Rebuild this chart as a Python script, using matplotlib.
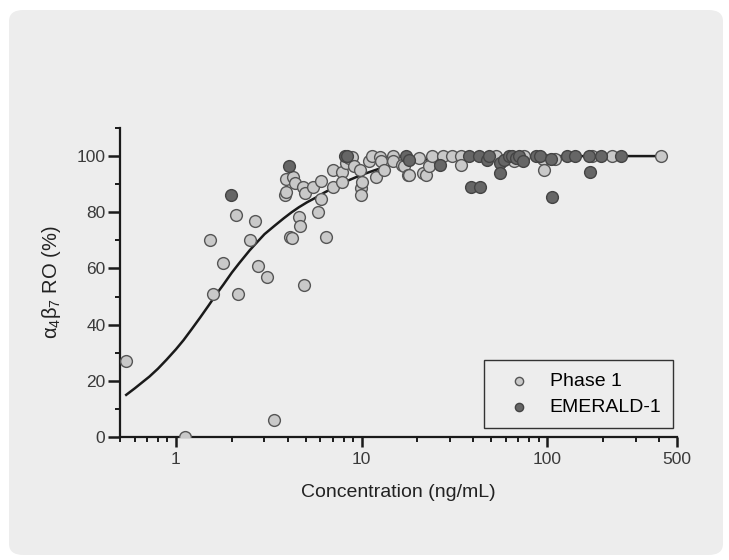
import numpy as np
import matplotlib
matplotlib.use("Agg")
import matplotlib.pyplot as plt
from matplotlib.patches import FancyBboxPatch
from matplotlib.ticker import NullFormatter, LogLocator

plt.rcParams['font.family'] = ['Liberation Sans', 'DejaVu Sans']

# Phase 1 observations (concentration ng/mL, RO %)
phase1_conc = [0.536, 1.12, 1.52, 1.58, 1.80, 2.11, 2.17, 2.51, 2.66, 2.78,
               3.09, 3.38, 3.85, 3.94, 3.94, 4.27, 4.36, 4.1, 4.21, 4.6,
               4.67, 4.87, 4.83, 4.94, 5.47, 5.83, 6.07, 6.07, 6.45, 7.0,
               7.0, 7.8, 7.8, 8.27, 8.6, 8.9, 9.1, 9.85, 9.9, 9.9,
               10.1, 11.0, 11.4, 11.9, 12.6, 12.7, 13.2, 14.7, 14.7, 16.6,
               17.0, 17.7, 17.9, 20.5, 21.4, 22.2, 23.2, 24.1, 27.3, 30.8,
               34.2, 34.2, 52.8, 66.5, 74.7, 94.6, 96.0, 110, 175, 224, 412]
phase1_ro = [27, 0, 70, 51, 62, 79, 51, 70, 77, 61,
             57, 6, 86, 87.3, 92, 92.4, 90.3, 71.2, 71, 78.4,
             75.2, 54, 89.1, 86.7, 89.1, 80.2, 91.1, 84.9, 71.2, 95.1,
             89.1, 94.5, 90.9, 97.5, 99.3, 99.5, 96.5, 95.1, 88.5, 86.1,
             90.9, 98.1, 100, 92.4, 99.5, 98.1, 95.1, 100, 98.3, 96.9,
             96.3, 93.3, 93.3, 99.3, 93.9, 93.3, 96.3, 100, 100, 100,
             100, 97, 100, 98.2, 100, 99, 95, 99, 100, 100, 100]

# EMERALD-1 observations
emerald_conc = [1.99, 4.06, 8.17, 8.3, 17.3, 18.1, 26.3, 38.1, 39.0, 43.5,
                43.0, 47.6, 48.5, 55.9, 56.0, 58.6, 62.0, 64.7, 67.6, 70.5,
                73.7, 86.5, 91.6, 105, 106, 128, 142, 167, 170, 195, 250]
emerald_ro = [86, 96.5, 100, 100, 99.9, 98.7, 97, 100, 89, 89,
              100, 98.7, 100, 97.5, 93.9, 98.7, 100, 100, 99.3, 100,
              98.2, 100, 100, 99, 85.5, 100, 100, 100, 94.5, 100, 100]

# fitted curve
curve_conc = [0.54, 0.6, 0.66, 0.72, 0.8, 0.89, 1.0, 1.1, 1.22, 1.35, 1.5,
              1.65, 1.8, 2.0, 2.2, 2.5, 2.75, 3.0, 3.4, 3.8, 4.2, 4.6, 5.1,
              5.7, 6.3, 7.0, 7.8, 8.6, 9.5, 10.5, 11.7, 13, 14.5, 16, 18,
              20, 24, 30, 40, 50, 70, 100, 412]
curve_ro = [15, 17.3, 19.5, 21.5, 24.3, 27.5, 31.2, 34.5, 38.5, 42.5, 46.8,
            50.8, 54.2, 58.5, 62, 66.5, 69.5, 72.2, 75.2, 77.8, 80, 81.8, 83.6,
            85.3, 87, 88.6, 90.1, 91.5, 92.7, 93.8, 94.9, 95.9, 96.7, 97.4, 98,
            98.5, 99, 99.4, 99.7, 99.85, 99.95, 100, 100]

bg = '#ededed'
light = '#c9c9c9'
dark = '#666666'
ink = '#1a1a1a'

fig = plt.figure(figsize=(7.29, 5.6), dpi=100)
fig.patch.set_facecolor('white')

# rounded grey panel behind everything
bg_ax = fig.add_axes([0, 0, 1, 1], zorder=-10)
bg_ax.set_axis_off()
bg_ax.add_patch(FancyBboxPatch((9 / 729, 5 / 560), 714 / 729, 545 / 560,
                               boxstyle="round,pad=0,rounding_size=0.02",
                               transform=bg_ax.transAxes, facecolor=bg,
                               edgecolor='none'))

ax = fig.add_axes([120 / 729, 123 / 560, 557 / 729, 309 / 560])
ax.set_facecolor('none')

ax.plot(curve_conc, curve_ro, color=ink, lw=1.8, zorder=2)
ax.scatter(phase1_conc, phase1_ro, s=72, facecolor=light,
           edgecolor='#555555', linewidth=1.0, zorder=3, label='Phase 1')
ax.scatter(emerald_conc, emerald_ro, s=72, facecolor=dark,
           edgecolor='#444444', linewidth=1.0, zorder=4, label='EMERALD-1')

ax.set_xscale('log')
ax.set_xlim(0.5, 500)
ax.set_ylim(0, 110)
ax.set_xticks([1, 10, 100, 500])
ax.set_xticklabels(['1', '10', '100', '500'])
ax.xaxis.set_minor_locator(LogLocator(base=10, subs=np.arange(2, 10), numticks=20))
ax.xaxis.set_minor_formatter(NullFormatter())
ax.set_yticks([0, 20, 40, 60, 80, 100])
ax.set_yticks([10, 30, 50, 70, 90, 110], minor=True)

for s in ['top', 'right']:
    ax.spines[s].set_visible(False)
for s in ['left', 'bottom']:
    ax.spines[s].set_linewidth(1.6)
    ax.spines[s].set_color(ink)

ax.tick_params(axis='both', which='major', width=1.8, color=ink,
               labelsize=12.5, labelcolor='#3a3a3a')
ax.tick_params(axis='y', which='major', length=9, pad=1.5)
ax.tick_params(axis='x', which='major', length=7, pad=4)
ax.tick_params(axis='both', which='minor', length=3.8, width=1.4, color=ink)

ax.set_xlabel('Concentration (ng/mL)', fontsize=14, color='#222222',
              labelpad=12)
ax.set_ylabel(r'$\mathregular{\alpha_4\beta_7}$ RO (%)', fontsize=14.5,
              color='#222222', labelpad=10)

leg = ax.legend(loc='lower right', bbox_to_anchor=(0.993, 0.03),
                frameon=True, fancybox=False, fontsize=14,
                markerscale=0.7, handletextpad=0.4, borderpad=0.6,
                labelspacing=0.45, borderaxespad=0, handlelength=2.4)
leg.get_frame().set_edgecolor('#333333')
leg.get_frame().set_facecolor(bg)
leg.get_frame().set_linewidth(1.0)
leg.get_frame().set_alpha(1)

fig.savefig('out.png', dpi=100, facecolor='white')
